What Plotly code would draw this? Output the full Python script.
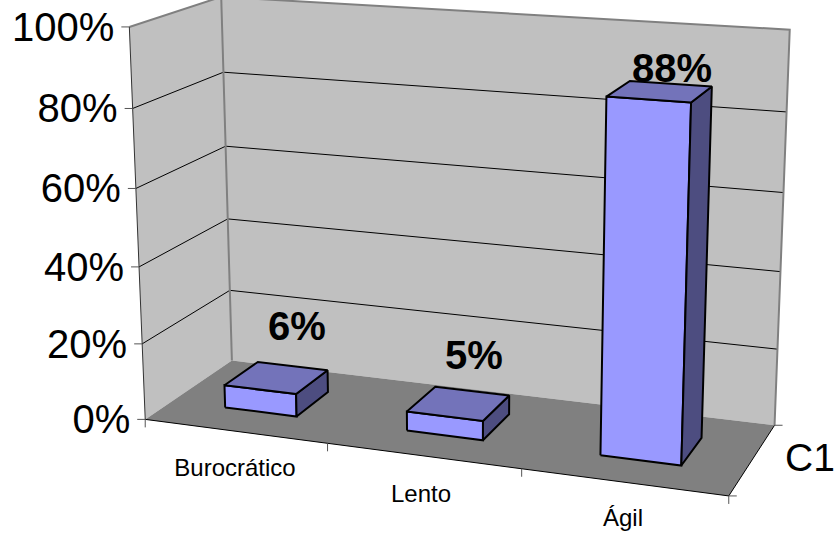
import numpy as np
import plotly.graph_objects as go

# ---- data ----
categories = ["Burocrático", "Lento", "Ágil"]
values = [6, 5, 88]
value_labels = ["6%", "5%", "88%"]
axis_ticks = [0, 20, 40, 60, 80, 100]
axis_tick_labels = ["0%", "20%", "40%", "60%", "80%", "100%"]
series_name = "C1"

# ---- pseudo-3D scale: (category, depth, percent) -> page pixel, calibrated on the wall corners ----
calibration = [
    ((0, 0, 0), (145, 420)), ((3, 0, 0), (728, 497)), ((3, 1, 0), (775, 424)), ((0, 1, 0), (232, 360)),
    ((0, 0, 100), (130, 27)), ((3, 1, 100), (790, 30)), ((0, 1, 100), (220, -3)),
    ((0, 0, 20), (142, 344)), ((0, 0, 40), (139, 266)), ((0, 0, 60), (136, 188)), ((0, 0, 80), (133, 108)),
    ((0, 1, 20), (230, 291)), ((0, 1, 40), (228, 219)), ((0, 1, 60), (226, 147)), ((0, 1, 80), (223, 72)),
]
rows = []
for (c, d, p), (px, py) in calibration:
    X = [c / 3, d, p / 100, 1]
    rows.append(X + [0, 0, 0, 0] + [-px / 1000 * v for v in X])
    rows.append([0, 0, 0, 0] + X + [-py / 1000 * v for v in X])
P = np.linalg.svd(np.array(rows))[2][-1].reshape(3, 4)


def project(c, d, p):
    h = P @ np.array([c / 3, d, p / 100, 1.0])
    return float(h[0] / h[2] * 1000), float(h[1] / h[2] * 1000)


fig = go.Figure()


def poly(points, fill=None, line=None, width=1):
    xy = [project(*q) for q in points]
    xs = [a for a, _ in xy]
    ys = [b for _, b in xy]
    if fill:
        xs.append(xs[0])
        ys.append(ys[0])
    fig.add_trace(go.Scatter(
        x=xs, y=ys, mode="lines", hoverinfo="skip", showlegend=False,
        fill="toself" if fill else None, fillcolor=fill,
        line=dict(color=line or fill, width=width if line else 0),
    ))


n = len(categories)
# walls and floor
poly([(0, 0, 0), (0, 1, 0), (0, 1, 100), (0, 0, 100)], fill="#C0C0C0")
poly([(0, 1, 0), (n, 1, 0), (n, 1, 100), (0, 1, 100)], fill="#C0C0C0")
poly([(0, 0, 0), (n, 0, 0), (n, 1, 0), (0, 1, 0)], fill="#808080")
# gridlines
for t in axis_ticks[1:-1]:
    poly([(0, 0, t), (0, 1, t), (n, 1, t)], line="#000000", width=1)
# wall edges
poly([(0, 0, 100), (0, 1, 100), (n, 1, 100), (n, 1, 0)], line="#808080", width=2)
poly([(0, 1, 0), (0, 1, 100)], line="#808080", width=2)
poly([(0, 0, 0), (0, 0, 100)], line="#333333", width=1)
poly([(0, 0, 0), (n, 0, 0), (n, 1, 0)], line="#000000", width=1)

# bars
GAP = 0.3
for i, v in enumerate(values):
    a, b = i + GAP, i + 1 - GAP
    d0, d1 = GAP, 1 - GAP
    poly([(a, d0, 0), (b, d0, 0), (b, d0, v), (a, d0, v)], fill="#9999FF", line="#000000", width=2)
    poly([(b, d0, 0), (b, d1, 0), (b, d1, v), (b, d0, v)], fill="#4D4D80", line="#000000", width=2)
    poly([(a, d0, v), (b, d0, v), (b, d1, v), (a, d1, v)], fill="#7373BA", line="#000000", width=2)

# tick marks
shapes = []
def tick(x0, y0, x1, y1):
    shapes.append(dict(type="line", xref="x", yref="y", x0=x0, y0=y0, x1=x1, y1=y1,
                       line=dict(color="#555555", width=1)))

tick_px = [project(0, 0, t) for t in axis_ticks]
for x, y in tick_px:
    tick(x - 8, y, x, y)
for c in range(n + 1):
    x, y = project(c, 0, 0)
    tick(x, y, x, y + 8)
for d in (0, 1):
    x, y = project(n, d, 0)
    tick(x, y, x + 8, y)

# text
FONT = "Liberation Sans, Arial, sans-serif"
fig.add_trace(go.Scatter(
    x=[x - 15 for x, _ in tick_px], y=[y + 4 for _, y in tick_px], text=axis_tick_labels,
    mode="text", textposition="middle left", hoverinfo="skip", showlegend=False,
    textfont=dict(family=FONT, size=40, color="#000000"),
))
fig.add_trace(go.Scatter(
    x=[235, 421, 623], y=[470, 496, 520], text=categories,
    mode="text", textposition="middle center", hoverinfo="skip", showlegend=False,
    textfont=dict(family=FONT, size=24, color="#000000"),
))
fig.add_trace(go.Scatter(
    x=[297, 474, 672], y=[330, 359, 72], text=value_labels,
    mode="text", textposition="middle center", hoverinfo="skip", showlegend=False,
    textfont=dict(family=FONT, size=40, color="#000000", weight="bold"),
))
fig.add_trace(go.Scatter(
    x=[810], y=[461], text=[series_name],
    mode="text", textposition="middle center", hoverinfo="skip", showlegend=False,
    textfont=dict(family=FONT, size=39, color="#000000"),
))

fig.update_layout(
    width=838, height=537, autosize=False,
    margin=dict(l=0, r=0, t=0, b=0), paper_bgcolor="#FFFFFF", plot_bgcolor="#FFFFFF",
    xaxis=dict(range=[0, 838], visible=False, fixedrange=True),
    yaxis=dict(range=[537, 0], visible=False, fixedrange=True),
    shapes=shapes, showlegend=False,
)
fig.write_html("out.html", config={"displayModeBar": False},
               post_script="document.body.style.margin='0';")
